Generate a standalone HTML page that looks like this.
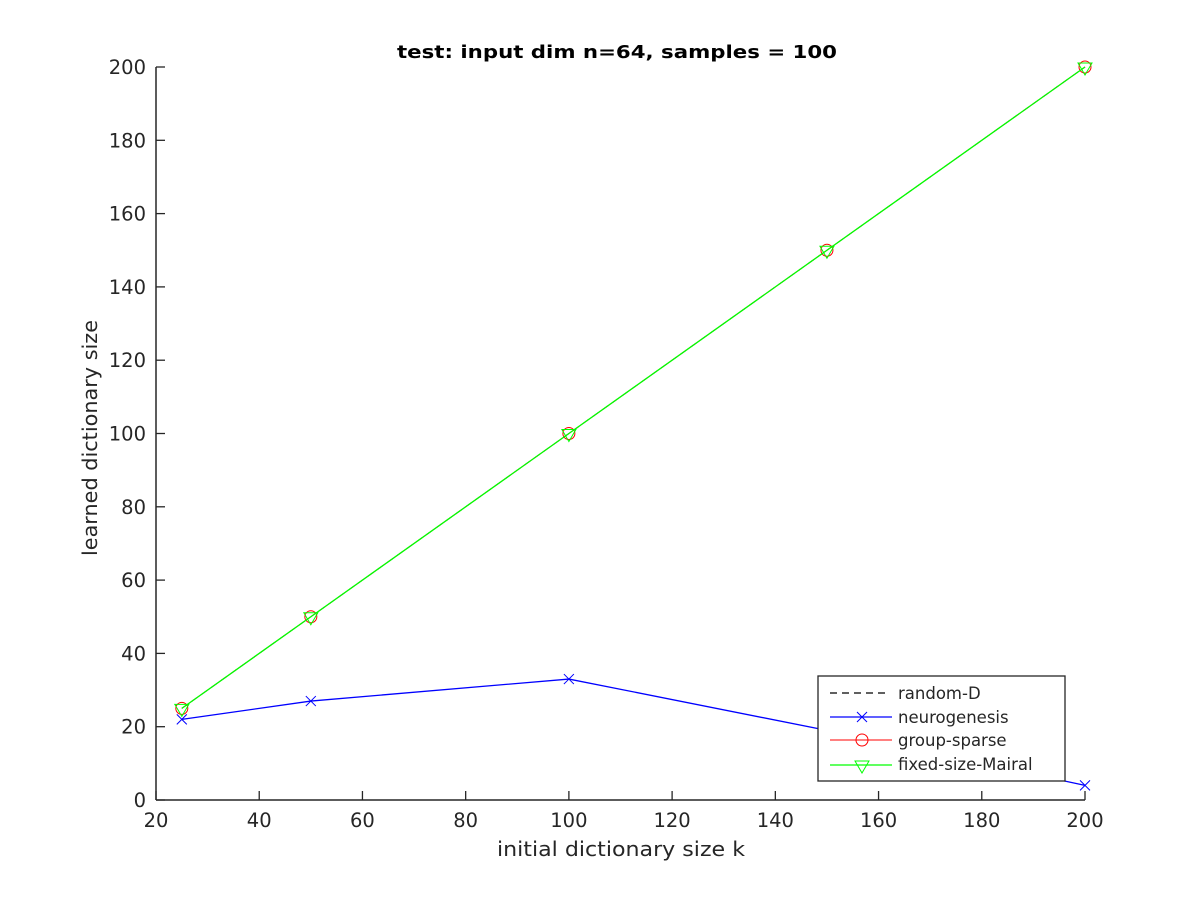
<!DOCTYPE html>
<html><head><meta charset="utf-8"><style>
body{margin:0;background:#fff;}
svg text{font-family:"DejaVu Sans","Liberation Sans",sans-serif;fill:#262626;}
</style></head><body>
<svg id="chart" width="1200" height="900">
<text x="617" y="58" font-size="18" font-weight="bold" text-anchor="middle" textLength="440" lengthAdjust="spacingAndGlyphs" style="fill:#000">test: input dim n=64, samples = 100</text>
<text x="621" y="856" font-size="20" text-anchor="middle" textLength="248" lengthAdjust="spacingAndGlyphs">initial dictionary size k</text>
<text transform="translate(97,438) rotate(-90)" font-size="20" text-anchor="middle" textLength="236" lengthAdjust="spacingAndGlyphs">learned dictionary size</text>
<g id="axes"></g>
<g id="series"></g>
<g>
<rect x="818" y="676" width="247" height="105" fill="#fff" stroke="#262626" stroke-width="1.3"/>
<line x1="830" y1="693" x2="888" y2="693" stroke="#000" stroke-dasharray="7,5" stroke-width="1.3"/>
<text x="898" y="699" font-size="16.5">random-D</text>
<line x1="830" y1="717" x2="892" y2="717" stroke="#00f" stroke-width="1.3"/>
<path d="M857 712l10 10M857 722l10-10" stroke="#00f"/>
<text x="898" y="723" font-size="16.5">neurogenesis</text>
<line x1="830" y1="740" x2="892" y2="740" stroke="#f00"/>
<circle cx="862" cy="740" r="6" fill="none" stroke="#f00"/>
<text x="898" y="746" font-size="16.5">group-sparse</text>
<line x1="830" y1="765" x2="892" y2="765" stroke="#0f0" stroke-width="1.3"/>
<path d="M855 761h14l-7 12z" fill="none" stroke="#0f0"/>
<text x="898" y="770" font-size="16.5">fixed-size-Mairal</text>
</g>
</svg>
<script>
const categories=[25,50,100,150,200];
const randomD=[25,50,100,150,200];
const neurogenesis=[22,27,33,19,4];
const groupSparse=[25,50,100,150,200];
const mairal=[25,50,100,150,200];
const xTicks=[20,40,60,80,100,120,140,160,180,200];
const yTicks=[0,20,40,60,80,100,120,140,160,180,200];
const NS='http://www.w3.org/2000/svg';
const X=v=>156+(v-20)/180*929;
const Y=v=>800-v/200*733;
function mk(t,a,p){const e=document.createElementNS(NS,t);for(const k in a)e.setAttribute(k,a[k]);p.appendChild(e);return e;}
const ax=document.getElementById('axes');
mk('line',{x1:156,y1:800,x2:1085,y2:800,stroke:'#262626','stroke-width':1.5},ax);
mk('line',{x1:156,y1:67,x2:156,y2:800,stroke:'#262626','stroke-width':1.5},ax);
xTicks.forEach(v=>{mk('line',{x1:X(v),y1:800,x2:X(v),y2:791,stroke:'#262626','stroke-width':1.3},ax);
const t=mk('text',{x:X(v),y:827,'font-size':19.5,'text-anchor':'middle'},ax);t.textContent=v;

});
yTicks.forEach(v=>{mk('line',{x1:156,y1:Y(v),x2:165,y2:Y(v),stroke:'#262626','stroke-width':1.3},ax);
const t=mk('text',{x:146,y:Y(v)+7,'font-size':19.5,'text-anchor':'end'},ax);t.textContent=v;

});
const sg=document.getElementById('series');
function pts(arr){return categories.map((c,i)=>X(c)+','+Y(arr[i])).join(' ');}
let l;
l=mk('polyline',{points:pts(randomD),fill:'none',stroke:'#000','stroke-dasharray':'7,5'},sg);


l=mk('polyline',{points:pts(neurogenesis),fill:'none',stroke:'#00f','stroke-width':1.3},sg);


categories.forEach((c,i)=>{const x=X(c),y=Y(neurogenesis[i]);
const m=mk('path',{d:`M${x-5} ${y-5}l10 10M${x-5} ${y+5}l10-10`,stroke:'#00f'},sg);

});
l=mk('polyline',{points:pts(groupSparse),fill:'none',stroke:'#f00'},sg);


categories.forEach((c,i)=>{const m=mk('circle',{cx:X(c),cy:Y(groupSparse[i]),r:6,fill:'none',stroke:'#f00'},sg);

});
l=mk('polyline',{points:pts(mairal),fill:'none',stroke:'#0f0','stroke-width':1.3},sg);


categories.forEach((c,i)=>{const x=X(c),y=Y(mairal[i]);
const m=mk('path',{d:`M${x-7} ${y-4}h14l-7 12z`,fill:'none',stroke:'#0f0'},sg);

});
</script>
</body></html>
